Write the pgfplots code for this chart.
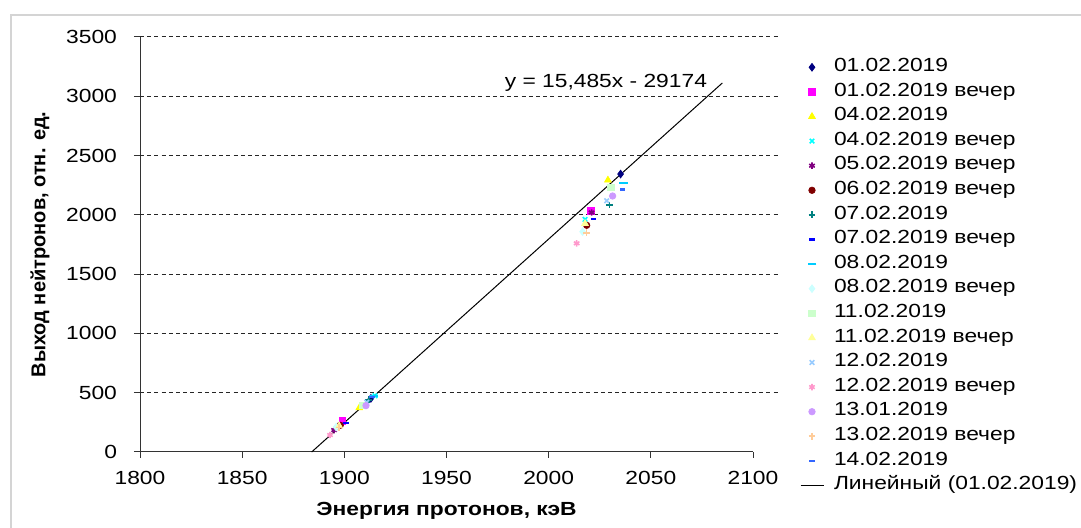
\documentclass[border=0pt]{standalone}
\usepackage{fontspec}
\setmainfont{Liberation Sans}[FakeStretch=1.2]
\newfontfamily\plainsans{Liberation Sans}
\usepackage{pgfplots}
\pgfplotsset{compat=1.18}
\definecolor{s1}{HTML}{000080}
\definecolor{s2}{HTML}{FF00FF}
\definecolor{s3}{HTML}{FFFF00}
\definecolor{s4}{HTML}{00FFFF}
\definecolor{s5}{HTML}{800080}
\definecolor{s6}{HTML}{800000}
\definecolor{s7}{HTML}{008080}
\definecolor{s8}{HTML}{0000FF}
\definecolor{s9}{HTML}{00CCFF}
\definecolor{s10}{HTML}{CCFFFF}
\definecolor{s11}{HTML}{CCFFCC}
\definecolor{s12}{HTML}{FFFF99}
\definecolor{s13}{HTML}{99CCFF}
\definecolor{s14}{HTML}{FF99CC}
\definecolor{s15}{HTML}{CC99FF}
\definecolor{s16}{HTML}{FFCC99}
\definecolor{s17}{HTML}{3366FF}
\definecolor{frame}{HTML}{D4D4D4}
\begin{document}
\begin{tikzpicture}[font=\fontsize{9.5pt}{11pt}\selectfont]
\useasboundingbox (0,0) rectangle (540.5pt,264pt);
\draw[frame, line width=0.8pt] (5.5pt,-10pt) rectangle (560pt,256.5pt);
\begin{axis}[
  at={(70pt,38pt)}, anchor=south west,
  scale only axis, width=306.5pt, height=207.5pt,
  xmin=1800, xmax=2100, ymin=0, ymax=3500,
  xtick={1800,1850,...,2100}, ytick={0,500,...,3500},
  axis lines*=left,
  axis line style={black!80, line width=0.5pt},
  tick align=outside, major tick length=3pt,
  tick style={black!80, line width=0.5pt},
  /pgf/number format/assume math mode=true,
  /pgf/number format/set thousands separator={},
  xticklabel style={yshift=-3pt},
  yticklabel style={xshift=-5pt},
  xlabel={\bfseries Энергия протонов, кэВ},
  xlabel style={yshift=-2pt},
  ylabel={\plainsans\fontsize{10pt}{12pt}\selectfont\bfseries Выход нейтронов, отн. ед.},
  ylabel style={yshift=1.5pt},
  clip=false,
  legend cell align=left,
  legend image code/.code={\draw[mark repeat=2,mark phase=2,#1] plot coordinates {(0pt,0pt)(5.75pt,0pt)(11.5pt,0pt)};},
  legend style={at={(1,1)}, anchor=north west, xshift=23.5pt, yshift=-9pt,
    draw=none, fill=none, inner sep=0pt, outer sep=0pt, row sep=0pt, column sep=5pt,
    nodes={inner sep=0pt, text height=8.3pt, text depth=4pt}},
]
\pgfplotsinvokeforeach{500,1000,1500,2000,2500,3000,3500}{
  \draw[black!85, line width=0.5pt, dash pattern=on 2pt off 1.6pt] (axis cs:1800,#1) -- (axis cs:2112,#1);
}
\addplot[only marks, mark=diamond*, mark size=1.9pt, color=s1] coordinates {(1913.0,452) (2035.2,2344)};
\addlegendentry{01.02.2019}
\addplot[only marks, mark=square*, mark size=1.6pt, color=s2] coordinates {(1899.0,262) (2020.6,2035)};
\addlegendentry{01.02.2019 вечер}
\addplot[only marks, mark=triangle*, mark size=1.9pt, color=s3] coordinates {(1907.3,372) (2029.0,2293)};
\addlegendentry{04.02.2019}
\addplot[only marks, mark=x, mark size=1.6pt, line width=0.8pt, color=s4] coordinates {(1915.0,474) (2017.8,1962)};
\addlegendentry{04.02.2019 вечер}
\addplot[only marks, mark=asterisk, mark size=1.6pt, line width=0.8pt, color=s5] coordinates {(1895.0,185) (2021.0,2020)};
\addlegendentry{05.02.2019 вечер}
\addplot[only marks, mark=*, mark size=1.6pt, color=s6] coordinates {(1898.0,225) (2018.6,1912)};
\addlegendentry{06.02.2019 вечер}
\addplot[only marks, mark=+, mark size=1.7pt, line width=0.8pt, color=s7] coordinates {(1912.0,440) (2029.7,2083)};
\addlegendentry{07.02.2019}
\addplot[only marks, mark=-, mark size=1.3pt, line width=1.2pt, color=s8] coordinates {(1900.8,243) (2021.8,1965)};
\addlegendentry{07.02.2019 вечер}
\addplot[only marks, mark=-, mark size=2.2pt, line width=1pt, color=s9] coordinates {(1914.5,470) (2036.6,2266)};
\addlegendentry{08.02.2019}
\addplot[only marks, mark=diamond*, mark size=1.9pt, color=s10] coordinates {(1896.0,210) (2016.6,1858)};
\addlegendentry{08.02.2019 вечер}
\addplot[only marks, mark=square*, mark size=1.6pt, color=s11] coordinates {(1909.0,395) (2030.5,2232)};
\addlegendentry{11.02.2019}
\addplot[only marks, mark=triangle*, mark size=1.9pt, color=s12] coordinates {(1897.5,220) (2017.8,1927)};
\addlegendentry{11.02.2019 вечер}
\addplot[only marks, mark=x, mark size=1.6pt, line width=0.8pt, color=s13] coordinates {(1911.0,420) (2028.4,2119)};
\addlegendentry{12.02.2019}
\addplot[only marks, mark=asterisk, mark size=1.6pt, line width=0.8pt, color=s14] coordinates {(1893.0,143) (2013.7,1760)};
\addlegendentry{12.02.2019 вечер}
\addplot[only marks, mark=*, mark size=1.6pt, color=s15] coordinates {(1910.6,391) (2031.3,2159)};
\addlegendentry{13.01.2019}
\addplot[only marks, mark=+, mark size=1.7pt, line width=0.8pt, color=s16] coordinates {(1897.5,205) (2018.6,1849)};
\addlegendentry{13.02.2019 вечер}
\addplot[only marks, mark=-, mark size=1.3pt, line width=1.2pt, color=s17] coordinates {(1913.5,462) (2036.0,2215)};
\addlegendentry{14.02.2019}
\addplot[black, line width=0.5pt, mark=none] coordinates {(1884.01,0) (2085.0,3112.2)};
\addlegendentry{Линейный (01.02.2019)}
\node at (axis cs:2028,3112) {y = 15,485x - 29174};
\end{axis}
\end{tikzpicture}
\end{document}
